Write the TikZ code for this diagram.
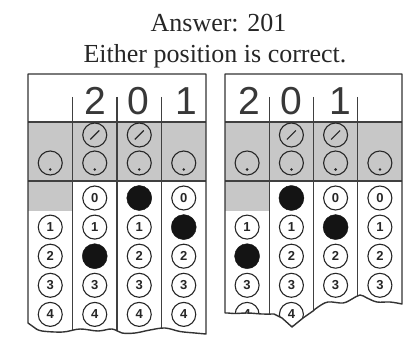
\documentclass[tikz,border=0pt]{standalone}
\usepackage{fontspec}
\setmainfont{Liberation Serif}
\newfontfamily\digfont{Liberation Sans}
\tikzset{
  bub/.style={circle, draw=black!85, line width=1.1pt, minimum size=24pt, inner sep=0pt,
    font=\digfont\bfseries\fontsize{13}{13}\selectfont, text=black!85},
  fillbub/.style={circle, fill=black!92, draw=black!92, minimum size=25pt, inner sep=0pt},
  outline/.style={draw=black!80, line width=1.4pt, line join=round},
  gline/.style={draw=black!75, line width=1.3pt},
  greyfill/.style={fill=black!22},
  bigdig/.style={font=\digfont\fontsize{39}{39}\selectfont, anchor=base, inner sep=0pt, text=black!78},
  titletext/.style={font=\fontsize{26}{30}\selectfont, anchor=base, inner sep=0pt, text=black!85},
  slashline/.style={line width=1.1pt, draw=black!85},
}
\def\leftoutline{(28,74) -- (206,74) -- (206,334)
  -- plot[smooth, tension=0.6] coordinates {(206,334) (195,333) (180,331.5) (165,328) (150,330) (135,333) (122,333) (112,329) (98,331) (80,329) (63,332) (42,331) (35,328)}
  -- (28,323) -- cycle}
\def\rightoutline{(225,74) -- (402,74) -- (402,304)
  -- plot[smooth, tension=0.6] coordinates {(402,304) (390,302) (377,302) (367,298) (360,295) (352,299) (343,303) (328,302) (318,307) (313,311)}
  -- (303,318) -- (292,327) -- (282,318) -- (274,314)
  -- plot[smooth, tension=0.6] coordinates {(274,314) (262,314) (248,313) (235,313.5) (228,313)}
  -- (225,313) -- cycle}
\begin{document}
\begin{tikzpicture}[x=1pt, y=-1pt]
\useasboundingbox (0,0) rectangle (406,339);

\node[titletext] (title) at (218.5,32) {Answer: 201};
\node[titletext] (sub) at (215,63) {Either position is correct.};

% ---------------- left grid ----------------
\begin{scope}
  \clip \leftoutline;
  \fill[greyfill] (28,122) rectangle (206,181);
  \fill[greyfill] (28,181) rectangle (72.5,211);
  \draw[gline] (28,122) -- (206,122);
  \draw[gline] (28,181) -- (206,181);
  \foreach \x in {72.5,117,161.5} \draw[gline] (\x,97) -- (\x,345);
  % dot bubbles
  \foreach \c/\x in {1/50.25,2/94.75,3/139.25,4/183.75}{
    \node[bub] (Ld\c) at (\x,163) {};
    \fill[black!85] (Ld\c.center) ++(0,6.5) circle (1.4pt);
  }
  % slash bubbles
  \foreach \c/\x in {2/94.75,3/139.25}{
    \node[bub] (Ls\c) at (\x,135) {};
    \draw[slashline] (Ls\c.center) ++(-4.5,4.5) -- ++(9,-9);
  }
  % number bubbles
  \foreach \r in {1,2,3,4} \node[bub] (L1-\r) at (50.25,{198+29.1*\r}) {\r};
  \foreach \r in {0,1,3,4} \node[bub] (L2-\r) at (94.75,{198+29.1*\r}) {\r};
  \node[fillbub] (L2-2) at (94.75,{198+29.1*2}) {};
  \foreach \r in {1,2,3,4} \node[bub] (L3-\r) at (139.25,{198+29.1*\r}) {\r};
  \node[fillbub] (L3-0) at (139.25,198) {};
  \foreach \r in {0,2,3,4} \node[bub] (L4-\r) at (183.75,{198+29.1*\r}) {\r};
  \node[fillbub] (L4-1) at (183.75,{198+29.1}) {};
\end{scope}
\draw[outline] \leftoutline;
\node[bigdig] (Lh2) at (95,115) {2};
\node[bigdig] (Lh0) at (138.5,115) {0};
\node[bigdig] (Lh1) at (186,115) {1};

% ---------------- right grid ----------------
\begin{scope}
  \clip \rightoutline;
  \fill[greyfill] (225,122) rectangle (402,181);
  \fill[greyfill] (225,181) rectangle (269.25,211);
  \draw[gline] (225,122) -- (402,122);
  \draw[gline] (225,181) -- (402,181);
  \foreach \x in {269.25,313.5,357.75} \draw[gline] (\x,97) -- (\x,345);
  \foreach \c/\x in {1/247.1,2/291.4,3/335.6,4/379.9}{
    \node[bub] (Rd\c) at (\x,163) {};
    \fill[black!85] (Rd\c.center) ++(0,6.5) circle (1.4pt);
  }
  \foreach \c/\x in {2/291.4,3/335.6}{
    \node[bub] (Rs\c) at (\x,135) {};
    \draw[slashline] (Rs\c.center) ++(-4.5,4.5) -- ++(9,-9);
  }
  \foreach \r in {1,3,4} \node[bub] (R1-\r) at (247.1,{198+29.1*\r}) {\r};
  \node[fillbub] (R1-2) at (247.1,{198+29.1*2}) {};
  \foreach \r in {1,2,3,4} \node[bub] (R2-\r) at (291.4,{198+29.1*\r}) {\r};
  \node[fillbub] (R2-0) at (291.4,198) {};
  \foreach \r in {0,2,3} \node[bub] (R3-\r) at (335.6,{198+29.1*\r}) {\r};
  \node[fillbub] (R3-1) at (335.6,{198+29.1}) {};
  \foreach \r in {0,1,2,3} \node[bub] (R4-\r) at (379.9,{198+29.1*\r}) {\r};
\end{scope}
\draw[outline] \rightoutline;
\node[bigdig] (Rh2) at (249.5,115) {2};
\node[bigdig] (Rh0) at (291.5,115) {0};
\node[bigdig] (Rh1) at (340,115) {1};
\end{tikzpicture}
\end{document}
